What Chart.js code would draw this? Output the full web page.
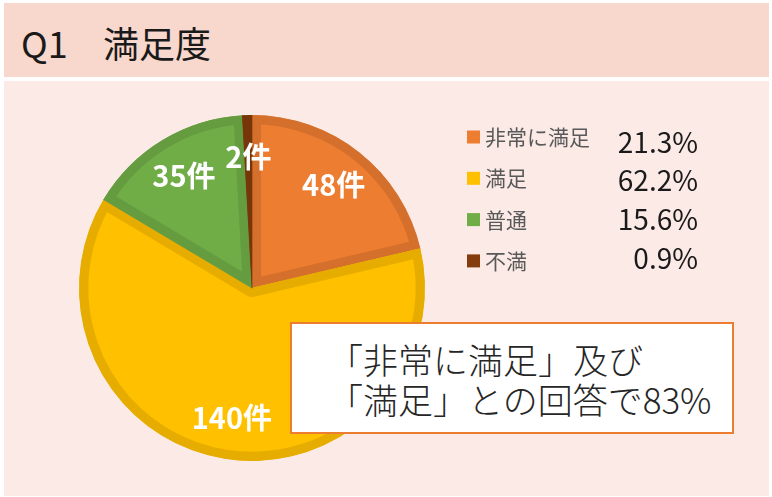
<!DOCTYPE html>
<html lang="ja">
<head>
<meta charset="utf-8">
<script src="https://cdn.jsdelivr.net/npm/chart.js@4/dist/chart.umd.min.js"></script>
<style>
  html, body { margin: 0; padding: 0; background: #ffffff; }
  body { width: 772px; height: 497px; position: relative; overflow: hidden;
         font-family: "Noto Sans CJK JP", "Noto Sans", sans-serif; }
  #header { position: absolute; left: 4px; top: 3px; width: 765px; height: 74px; background: #F8D7CC; }
  .title { position: absolute; top: 0; height: 78px; line-height: 78px;
           font-size: 36px; color: #1a1a1a; white-space: pre; }
  #panel { position: absolute; left: 4px; top: 81px; width: 765px; height: 415px; background: #FBEAE6; }
  #wrap { position: absolute; left: 0; top: 0; width: 772px; height: 497px; }
  #callout { position: absolute; left: 290px; top: 322px; width: 440px; height: 108px;
             border: 2.5px solid #ED7D31; background: #ffffff; box-sizing: content-box; }
  #callout div { position: absolute; left: 36px; font-size: 35px; color: #262626; font-weight: 300;
                 white-space: pre; line-height: 40px; }
</style>
</head>
<body>
<div id="header"><span class="title" style="left:17px">Q1</span><span class="title" style="left:99px">満足度</span></div>
<div id="panel"></div>
<div id="wrap"><canvas id="c" width="772" height="497"></canvas></div>
<div id="callout">
  <div style="top:15px">「非常に満足」及び</div>
  <div style="top:55px">「満足」との回答で83%</div>
</div>
<script>
const categories = ["非常に満足", "満足", "普通", "不満"];
const counts = [48, 140, 35, 2];
const fillColors = ["#ED7D31", "#FFC000", "#70AD47", "#843C0C"];
const borderColors = ["#D5702C", "#E6AD00", "#659C40", "#773609"];
const countSuffix = "件";

const total = counts.reduce((a, b) => a + b, 0);

const sliceLabels = {
  id: "sliceLabels",
  afterDatasetsDraw(chart) {
    const ctx = chart.ctx;
    const meta = chart.getDatasetMeta(0);
    ctx.save();
    ctx.fillStyle = "#ffffff";
    ctx.font = "bold 29px 'Noto Sans CJK JP', 'Open Sans', sans-serif";
    ctx.textAlign = "center";
    ctx.textBaseline = "middle";
    meta.data.forEach((arc, i) => {
      const p = arc.getProps(["x", "y", "startAngle", "endAngle", "outerRadius"], true);
      const mid = (p.startAngle + p.endAngle) / 2;
      const r = p.outerRadius * 0.76;
      ctx.fillText(counts[i] + countSuffix, p.x + Math.cos(mid) * r, p.y + Math.sin(mid) * r);
    });
    ctx.restore();
  }
};

const sideLegend = {
  id: "sideLegend",
  afterDraw(chart) {
    const ctx = chart.ctx;
    ctx.save();
    categories.forEach((name, i) => {
      const rowY = 137 + i * 41.3;
      ctx.fillStyle = fillColors[i];
      ctx.fillRect(467, rowY - 6.5, 13, 13);
      ctx.fillStyle = "#595959";
      ctx.font = "21px 'Noto Sans CJK JP', sans-serif";
      ctx.textAlign = "left";
      ctx.textBaseline = "middle";
      ctx.fillText(name, 485, rowY);
      const pct = (counts[i] / total * 100).toFixed(1) + "%";
      ctx.fillStyle = "#1a1a1a";
      ctx.font = "28px 'Noto Sans CJK JP', sans-serif";
      ctx.textAlign = "right";
      ctx.fillText(pct, 698, 142 + i * 38.7);
    });
    ctx.restore();
  }
};

new Chart(document.getElementById("c"), {
  type: "pie",
  data: {
    labels: categories,
    datasets: [{
      data: counts,
      backgroundColor: fillColors,
      borderColor: borderColors,
      borderWidth: 9,
      borderAlign: "inner",
      hoverBorderWidth: 0
    }]
  },
  options: {
    responsive: false,
    animation: false,
    events: [],
    layout: { padding: { left: 79, top: 115, right: 347, bottom: 36 } },
    plugins: { legend: { display: false }, tooltip: { enabled: false } }
  },
  plugins: [sliceLabels, sideLegend]
});
</script>
</body>
</html>
